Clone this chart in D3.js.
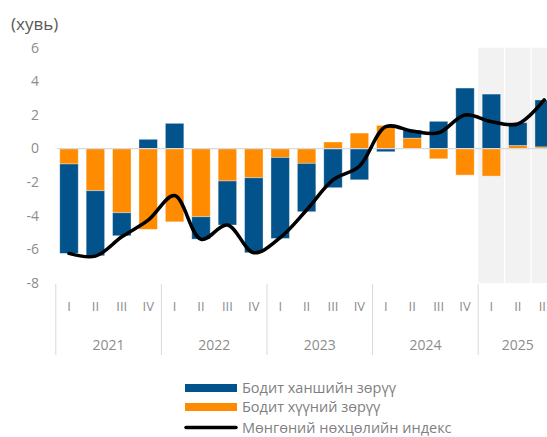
<!DOCTYPE html>
<html>
<head>
<meta charset="utf-8">
<script src="https://cdn.jsdelivr.net/npm/d3@7"></script>
<style>
  body { margin: 0; background: #fff; }
  text { font-family: "Open Sans", "Noto Sans", sans-serif; }
</style>
</head>
<body>
<svg width="547" height="437"></svg>
<script>
// quarters and years on the x axis
var years = ["2021", "2022", "2023", "2024", "2025"];
var quarters = [
  "2021 I", "2021 II", "2021 III", "2021 IV",
  "2022 I", "2022 II", "2022 III", "2022 IV",
  "2023 I", "2023 II", "2023 III", "2023 IV",
  "2024 I", "2024 II", "2024 III", "2024 IV",
  "2025 I", "2025 II", "2025 III"
];

// Бодит ханшийн зөрүү (blue)
var rateGap = [-5.32, -3.87, -1.37, 0.55, 1.5, -1.33, -2.62, -4.46,
               -4.82, -2.88, -2.33, -1.86, -0.19, 0.48, 1.62, 3.6,
               3.24, 1.36, 2.79];
// Бодит хүүний зөрүү (orange)
var interestGap = [-0.92, -2.51, -3.82, -4.81, -4.36, -4.06, -1.93, -1.74,
                   -0.53, -0.88, 0.39, 0.92, 1.38, 0.62, -0.61, -1.58,
                   -1.64, 0.18, 0.1];
// Мөнгөний нөхцөлийн индекс (line)
var indexLine = [-6.24, -6.4, -5.25, -4.26, -2.8, -5.4, -4.55, -6.2,
                 -5.3, -3.66, -1.87, -1.05, 1.3, 1.04, 0.94, 2.0,
                 1.6, 1.46, 2.89];

var yTicks = [6, 4, 2, 0, -2, -4, -6, -8];

var blue = "#02538b", orange = "#ff8b00";

var svg = d3.select("svg");

var x = d3.scaleBand()
  .domain(quarters)
  .range([55.8, 55.8 + 19 * 26.4])
  .paddingInner(0.3)
  .paddingOuter(0.15);

var y = d3.scaleLinear()
  .domain([-8, 6])
  .range([283, 47.7]);

// left edge of the cell that holds quarter i
function cellLeft(i) { return x.range()[0] + i * x.step(); }
function center(q) { return x(q) + x.bandwidth() / 2; }

// forecast shading for 2025
var fIdx = quarters.indexOf("2025 I");
svg.append("rect")
  .attr("x", cellLeft(fIdx))
  .attr("y", y(6))
  .attr("width", 547 - cellLeft(fIdx))
  .attr("height", y(-8) - y(6))
  .attr("fill", "#f2f2f2");
d3.range(fIdx + 1, quarters.length).forEach(function(i) {
  svg.append("line")
    .attr("x1", cellLeft(i)).attr("x2", cellLeft(i))
    .attr("y1", y(6)).attr("y2", y(-8))
    .attr("stroke", "#fff").attr("stroke-width", 1.2);
});

// y axis labels
svg.append("g").selectAll("text")
  .data(yTicks)
  .enter().append("text")
    .attr("x", 39)
    .attr("y", function(d) { return y(d); })
    .attr("dy", "0.35em")
    .attr("text-anchor", "end")
    .attr("fill", "#8c8c8c")
    .attr("font-size", 14)
    .text(function(d) { return d; });

svg.append("text")
  .attr("x", 11).attr("y", 30)
  .attr("fill", "#595959")
  .attr("font-size", 17)
  .text("(хувь)");

// stacked bars, orange nearest to zero
var rows = quarters.map(function(q, i) {
  return { q: q, interest: interestGap[i], rate: rateGap[i] };
});
var stack = d3.stack()
  .keys(["interest", "rate"])
  .offset(d3.stackOffsetDiverging);
var layers = stack(rows);
var colors = { interest: orange, rate: blue };

svg.append("g").selectAll("g")
  .data(layers)
  .enter().append("g")
    .attr("fill", function(d) { return colors[d.key]; })
  .selectAll("rect")
  .data(function(d) { return d; })
  .enter().append("rect")
    .attr("x", function(d) { return x(d.data.q); })
    .attr("width", x.bandwidth())
    .attr("y", function(d) { return y(Math.max(d[0], d[1])); })
    .attr("height", function(d) { return Math.abs(y(d[0]) - y(d[1])); })
    .attr("stroke", "rgba(255,255,255,0.45)")
    .attr("stroke-width", 0.8);

// zero line
svg.append("line")
  .attr("x1", 57).attr("x2", 547)
  .attr("y1", y(0)).attr("y2", y(0))
  .attr("stroke", "#d9d9d9").attr("stroke-width", 1.2);

// index line
var line = d3.line()
  .x(function(d, i) { return center(quarters[i]); })
  .y(function(d) { return y(d); })
  .curve(d3.curveCatmullRom.alpha(0.5));
svg.append("path")
  .datum(indexLine)
  .attr("d", line)
  .attr("fill", "none")
  .attr("stroke", "#000")
  .attr("stroke-width", 3.5)
  .attr("stroke-linecap", "round");

// x axis: quarter labels, year labels, separators
var ax = svg.append("g");
ax.selectAll(".q")
  .data(quarters)
  .enter().append("text")
    .attr("x", function(d) { return center(d); })
    .attr("y", 306)
    .attr("dy", "0.35em")
    .attr("text-anchor", "middle")
    .attr("fill", "#8c8c8c")
    .attr("font-size", 13)
    .text(function(d) { return d.split(" ")[1]; });

years.forEach(function(yr, k) {
  var first = k * 4;
  var n = quarters.filter(function(q) { return q.indexOf(yr) === 0; }).length;
  ax.append("line")
    .attr("x1", cellLeft(first)).attr("x2", cellLeft(first))
    .attr("y1", 284).attr("y2", 355)
    .attr("stroke", "#d9d9d9").attr("stroke-width", 1);
  ax.append("text")
    .attr("x", cellLeft(first) + n * x.step() / 2)
    .attr("y", 345)
    .attr("dy", "0.35em")
    .attr("text-anchor", "middle")
    .attr("fill", "#8c8c8c")
    .attr("font-size", 14)
    .text(yr);
});

// legend
var legend = [
  { label: "Бодит ханшийн зөрүү", type: "rect", color: blue, y: 388 },
  { label: "Бодит хүүний зөрүү", type: "rect", color: orange, y: 407 },
  { label: "Мөнгөний нөхцөлийн индекс", type: "line", color: "#000", y: 427.5 }
];
var lg = svg.append("g");
legend.forEach(function(d) {
  if (d.type === "rect") {
    lg.append("rect")
      .attr("x", 185).attr("y", d.y - 4)
      .attr("width", 52).attr("height", 8)
      .attr("fill", d.color);
  } else {
    lg.append("line")
      .attr("x1", 186).attr("x2", 236)
      .attr("y1", d.y).attr("y2", d.y)
      .attr("stroke", d.color).attr("stroke-width", 3.5)
      .attr("stroke-linecap", "round");
  }
  lg.append("text")
    .attr("x", 242).attr("y", d.y)
    .attr("dy", "0.35em")
    .attr("fill", "#7f7f7f")
    .attr("font-size", 14.5)
    .text(d.label);
});
</script>
</body>
</html>
